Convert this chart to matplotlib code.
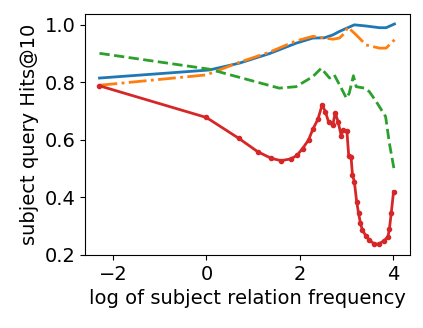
import numpy as np
import matplotlib
matplotlib.use("Agg")
import matplotlib.pyplot as plt

# -------------------------- Data ---------------------------------------------------- #
blue_x = [-2.29, 0.06, 0.71, 1.35, 1.92, 2.28, 2.53, 2.71, 2.85, 2.96, 3.17, 3.42, 3.71, 3.85, 4.03]
blue_y = [0.815, 0.843, 0.867, 0.900, 0.936, 0.954, 0.955, 0.965, 0.977, 0.985, 1.0, 0.996, 0.99, 0.99, 1.003]

orange_x = [-2.29, 0.0, 0.71, 1.35, 1.92, 2.28, 2.50, 2.71, 2.85, 2.96, 3.03, 3.21, 3.42, 3.71, 3.85, 4.03]
orange_y = [0.790, 0.826, 0.870, 0.905, 0.944, 0.960, 0.955, 0.950, 0.954, 0.971, 0.992, 0.965, 0.930, 0.919, 0.919, 0.948]

green_x = [-2.29, 0.06, 1.56, 1.92, 2.28, 2.46, 2.64, 2.74, 2.89, 3.00, 3.06, 3.15, 3.21, 3.39, 3.49, 3.64, 3.84, 3.92, 4.03]
green_y = [0.901, 0.846, 0.780, 0.785, 0.820, 0.849, 0.815, 0.826, 0.780, 0.745, 0.762, 0.823, 0.785, 0.780, 0.768, 0.733, 0.681, 0.589, 0.490]

red_x = [-2.29, 0.0, 0.69, 1.10, 1.39, 1.60, 1.81, 1.94, 2.06, 2.19, 2.28, 2.39, 2.48, 2.55, 2.62,
         2.71, 2.76, 2.82, 2.89, 2.92, 3.01, 3.05, 3.10, 3.13, 3.17, 3.22, 3.26, 3.30, 3.34, 3.42,
         3.49, 3.60, 3.69, 3.81, 3.89, 3.92, 3.96, 4.01]
red_y = [0.788, 0.678, 0.606, 0.559, 0.536, 0.528, 0.534, 0.546, 0.570, 0.600, 0.637, 0.672, 0.722, 0.698, 0.661,
         0.652, 0.695, 0.664, 0.614, 0.635, 0.632, 0.544, 0.540, 0.478, 0.455, 0.385, 0.345, 0.312, 0.287, 0.266,
         0.252, 0.238, 0.238, 0.250, 0.264, 0.289, 0.345, 0.420]

# -------------------------- Plot ----------------------------- #
fig = plt.figure(figsize=(4.23, 3.28), dpi=100)
ax = fig.add_axes([0.201, 0.2226, 0.768, 0.735])

ax.plot(blue_x, blue_y, color='tab:blue', lw=2)
ax.plot(orange_x, orange_y, color='tab:orange', lw=2, ls='-.')
ax.plot(green_x, green_y, color='tab:green', lw=2, ls='--')
ax.plot(red_x, red_y, color='tab:red', lw=2, marker='o', ms=3)

ax.set_xlim(-2.6, 4.36)
ax.set_ylim(0.2, 1.038)
ax.set_xticks([-2, 0, 2, 4])
ax.set_yticks([0.2, 0.4, 0.6, 0.8, 1.0])
ax.tick_params(labelsize=14)
ax.set_xlabel("log of subject relation frequency", fontsize=14)
ax.set_ylabel("subject query Hits@10", fontsize=14)

fig.savefig("out.png", dpi=100)
